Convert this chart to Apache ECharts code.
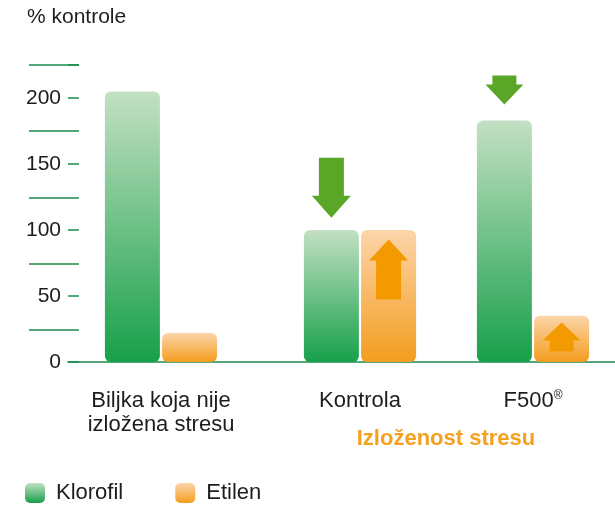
<!DOCTYPE html>
<html>
<head>
<meta charset="utf-8">
<script src="https://cdn.jsdelivr.net/npm/echarts@6/dist/echarts.min.js"></script>
<style>
  html, body { margin: 0; padding: 0; background: #fff; }
  #chart { width: 615px; height: 505px; }
</style>
</head>
<body>
<div id="chart"></div>
<script>
const categories = ['Biljka koja nije\nizložena stresu', 'Kontrola', 'F500®']
const klorofil = [205, 100, 183]
const etilen = [22, 100, 35]
// arrows drawn on the bars (value at arrow centre), null = no arrow
const klorofilArrow = [null, 132, 206]
const etilenArrow = [null, 70, 19]
const arrowKind = [null, 'tall', 'short']

main()

function main() {
  const chart = echarts.init(document.getElementById('chart'))
  const font = "'Liberation Sans', Arial, sans-serif"
  const textColor = '#1d1d1b'
  const lineGreen = '#1b8a4c'
  const top = 65, bottom = 143
  // left edge and width of each group of bars
  const bands = [[69, 184], [253, 214], [467, 132]]

  const green = new echarts.graphic.LinearGradient(0, 0, 0, 1, [
    { offset: 0, color: '#c3e0c3' },
    { offset: 1, color: '#17a04a' }
  ])
  const orange = new echarts.graphic.LinearGradient(0, 0, 0, 1, [
    { offset: 0, color: '#fcd5aa' },
    { offset: 1, color: '#f49d1f' }
  ])

  const arrows = {
    down: {
      tall: { path: 'path://M7,0L32,0L32,38L39,38L19.5,60L0,38L7,38Z', size: [39, 60] },
      short: { path: 'path://M7,0L31,0L31,9L38,9L19,29L0,9L7,9Z', size: [38, 29] }
    },
    up: {
      tall: { path: 'path://M19.5,0L39,21L32,21L32,60L7,60L7,21L0,21Z', size: [39, 60] },
      short: { path: 'path://M19,0L38,18L31,18L31,29L7,29L7,18L0,18Z', size: [38, 29] }
    }
  }

  function arrowMark(value, kind, dir, color) {
    if (value == null) return undefined
    const a = arrows[dir][kind]
    return {
      silent: true,
      animation: false,
      label: { show: false },
      itemStyle: { color: color },
      data: [{ coord: [0, value], symbol: a.path, symbolSize: a.size, symbolKeepAspect: false }]
    }
  }

  const grid = [
    { left: 68, right: 0, top: top, bottom: bottom },
    { left: 29, width: 50, top: top, bottom: 175.5 }
  ]
  const xAxis = [
    { gridIndex: 0, type: 'value', min: 0, max: 1, axisLine: { show: true, onZero: false, lineStyle: { color: lineGreen, width: 1.5 } },
      axisTick: { show: false }, axisLabel: { show: false }, splitLine: { show: false } },
    { gridIndex: 1, type: 'value', show: false }
  ]
  const yAxis = [
    { gridIndex: 0, type: 'value', min: 0, max: 225, interval: 50,
      axisLine: { show: false },
      axisTick: { show: true, inside: true, length: 11, lineStyle: { color: lineGreen, width: 1.5 } },
      axisLabel: { margin: 7, fontSize: 21, color: textColor, fontFamily: font,
        formatter: v => v > 200 ? '' : String(v) },
      splitLine: { show: false } },
    { gridIndex: 1, type: 'value', min: 25, max: 225, interval: 50,
      axisLine: { show: false }, axisTick: { show: false }, axisLabel: { show: false },
      splitLine: { show: true, lineStyle: { color: lineGreen, width: 1.5 } } }
  ]
  const series = []

  categories.forEach((cat, i) => {
    const g = grid.length
    grid.push({ left: bands[i][0], width: bands[i][1], top: top, bottom: bottom })
    xAxis.push({
      gridIndex: g, type: 'category', data: [cat],
      axisLine: { show: false }, axisTick: { show: false },
      axisLabel: {
        interval: 0, margin: 27, fontSize: 22, lineHeight: 24, color: textColor, fontFamily: font,
        formatter: v => v.replace('®', '{sup|®}'),
        rich: { sup: { fontSize: 12, padding: [0, 0, 10, 0], color: textColor, fontFamily: font } }
      }
    })
    yAxis.push({ gridIndex: g, type: 'value', min: 0, max: 225, show: false })
    series.push({
      name: 'Klorofil', type: 'bar', xAxisIndex: g, yAxisIndex: g,
      data: [klorofil[i]], barWidth: 55, barGap: '4%',
      itemStyle: { color: green, borderRadius: 6 },
      markPoint: arrowMark(klorofilArrow[i], arrowKind[i], 'down', '#5aa627')
    })
    series.push({
      name: 'Etilen', type: 'bar', xAxisIndex: g, yAxisIndex: g,
      data: [etilen[i]], barWidth: 55, barGap: '4%',
      itemStyle: { color: orange, borderRadius: 6 },
      markPoint: arrowMark(etilenArrow[i], arrowKind[i], 'up', '#f29a00')
    })
  })

  const option = {
    animation: false,
    textStyle: { fontFamily: font },
    grid: grid,
    xAxis: xAxis,
    yAxis: yAxis,
    legend: {
      data: ['Klorofil', 'Etilen'],
      left: 20, top: 477,
      icon: 'roundRect', itemWidth: 20, itemHeight: 20, itemGap: 52,
      textStyle: { fontSize: 22, color: textColor, fontFamily: font, padding: [0, 0, 0, 6] }
    },
    graphic: [
      { type: 'text', left: 27, top: 7, style: { text: '% kontrole', fontSize: 21, fill: textColor, fontFamily: font } },
      { type: 'text', x: 446, y: 439, style: { text: 'Izloženost stresu', fontSize: 22, fontWeight: 'bold',
        fill: '#f5a01e', fontFamily: font, align: 'center', verticalAlign: 'middle' } }
    ],
    series: series
  }
  chart.setOption(option)
}
</script>
</body>
</html>
